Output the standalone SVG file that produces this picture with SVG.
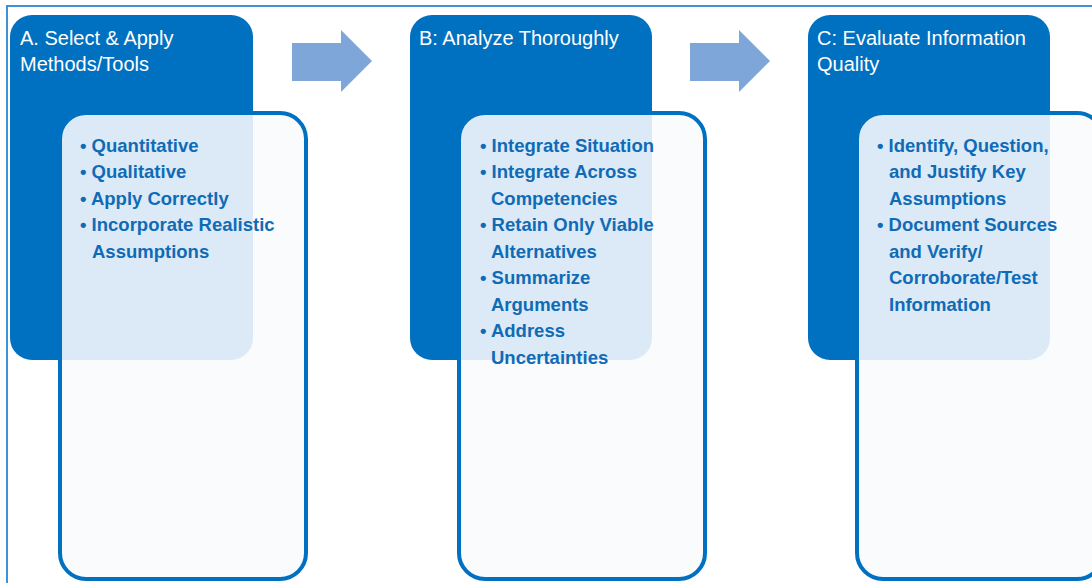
<svg xmlns="http://www.w3.org/2000/svg" width="1092" height="583" viewBox="0 0 1092 583">
<style>
.bg{fill:#ffffff}
.frame{fill:none;stroke:#2e86d3;stroke-width:1.8}
.head{fill:#0070c0}
.card{fill:#f9fafd;fill-opacity:0.88;stroke:#0070c0;stroke-width:4}
.title{font-family:"Liberation Sans",Arial,sans-serif;font-size:20px;fill:#ffffff}
.item{font-family:"Liberation Sans",Arial,sans-serif;font-size:18.5px;font-weight:bold;fill:#106bb6}
.arrow{fill:#7fa6d9}
</style>
<rect class="bg" x="0" y="0" width="1092" height="583"/>
<rect class="frame" x="7" y="6" width="1100" height="600"/>

<g id="nodeA">
  <rect class="head" x="10" y="15" width="243" height="345" rx="22"/>
  <text class="title" x="20" y="45">A. Select &amp; Apply</text>
  <text class="title" x="20" y="71">Methods/Tools</text>
  <rect class="card" x="60" y="113" width="246" height="466" rx="26"/>
  <text class="item" x="80" y="152">• Quantitative</text>
  <text class="item" x="80" y="178">• Qualitative</text>
  <text class="item" x="80" y="205">• Apply Correctly</text>
  <text class="item" x="80" y="231">• Incorporate Realistic</text>
  <text class="item" x="92" y="258">Assumptions</text>
</g>

<g id="nodeB">
  <rect class="head" x="410" y="15" width="242" height="345" rx="22"/>
  <text class="title" x="419" y="45">B: Analyze Thoroughly</text>
  <rect class="card" x="459" y="113" width="246" height="466" rx="26"/>
  <text class="item" x="480" y="152">• Integrate Situation</text>
  <text class="item" x="480" y="178">• Integrate Across</text>
  <text class="item" x="491" y="205">Competencies</text>
  <text class="item" x="480" y="231">• Retain Only Viable</text>
  <text class="item" x="491" y="258">Alternatives</text>
  <text class="item" x="480" y="284">• Summarize</text>
  <text class="item" x="491" y="311">Arguments</text>
  <text class="item" x="480" y="337">• Address</text>
  <text class="item" x="491" y="364">Uncertainties</text>
</g>

<g id="nodeC">
  <rect class="head" x="808" y="15" width="242" height="345" rx="22"/>
  <text class="title" x="817" y="45">C: Evaluate Information</text>
  <text class="title" x="817" y="71">Quality</text>
  <rect class="card" x="857" y="113" width="246" height="466" rx="26"/>
  <text class="item" x="877" y="152">• Identify, Question,</text>
  <text class="item" x="889" y="178">and Justify Key</text>
  <text class="item" x="889" y="205">Assumptions</text>
  <text class="item" x="877" y="231">• Document Sources</text>
  <text class="item" x="889" y="258">and Verify/</text>
  <text class="item" x="889" y="284">Corroborate/Test</text>
  <text class="item" x="889" y="311">Information</text>
</g>

<g id="connectors">
  <polygon class="arrow" points="292,43 341,43 341,30 372,61 341,92 341,81 292,81"/>
  <polygon class="arrow" points="690,43 739,43 739,30 770,61 739,92 739,81 690,81"/>
</g>
</svg>
